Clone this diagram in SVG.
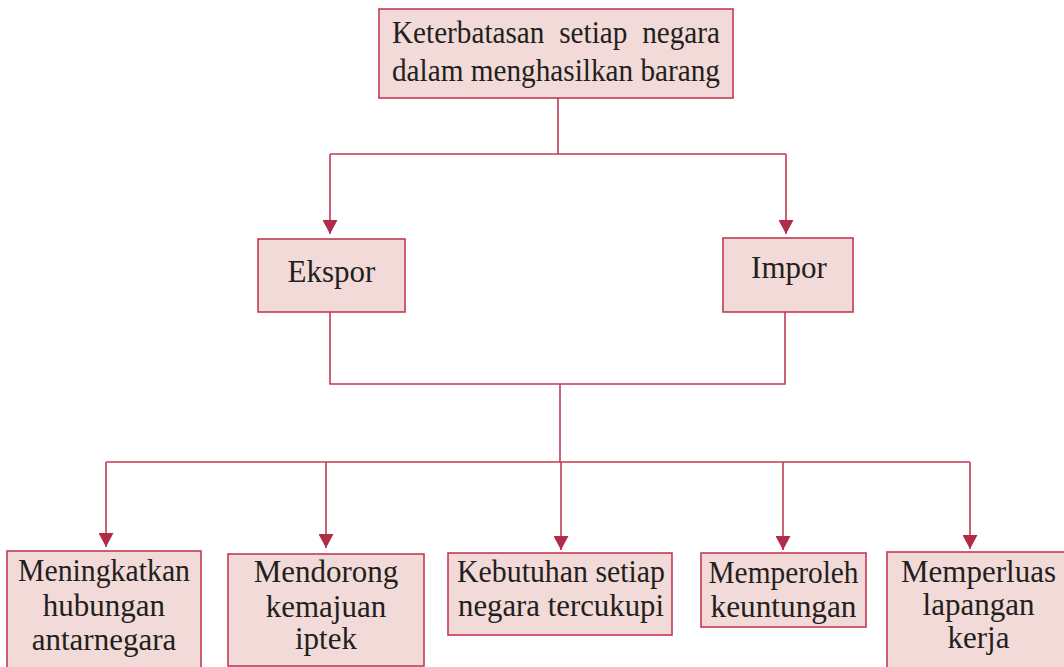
<svg xmlns="http://www.w3.org/2000/svg" width="1064" height="667" viewBox="0 0 1064 667">
<style>
.box{fill:#f1dad7;stroke:#c43a55;stroke-width:1.6}
.t{font-family:"Liberation Serif","Times New Roman",serif;font-size:31px;fill:#231f20;text-anchor:middle}
.tl{font-family:"Liberation Serif","Times New Roman",serif;font-size:31px;fill:#231f20}
.c{fill:none;stroke:#c43a55;stroke-width:1.6}
</style>
<defs>
<marker id="arr" viewBox="0 0 14 15" refX="14" refY="7.5" markerWidth="14" markerHeight="15" markerUnits="userSpaceOnUse" orient="auto">
<path d="M0,0 L14,7.5 L0,15 z" fill="#b12c48"/>
</marker>
</defs>
<rect width="1064" height="667" fill="#ffffff"/>
<g id="connectors">
<path class="c" d="M558,98 V154"/>
<path class="c" d="M330,154 H786"/>
<path class="c" d="M330,154 V234" marker-end="url(#arr)"/>
<path class="c" d="M786,154 V234" marker-end="url(#arr)"/>
<path class="c" d="M330,312 V384 H785 V312"/>
<path class="c" d="M560,384 V462"/>
<path class="c" d="M106,462 H970"/>
<path class="c" d="M106,462 V547" marker-end="url(#arr)"/>
<path class="c" d="M326,462 V548" marker-end="url(#arr)"/>
<path class="c" d="M561,462 V550" marker-end="url(#arr)"/>
<path class="c" d="M783,462 V550" marker-end="url(#arr)"/>
<path class="c" d="M970,462 V549" marker-end="url(#arr)"/>
</g>
<g id="node-top">
<rect class="box" x="379" y="9" width="354" height="89"/>
<text class="tl" x="392" y="43" textLength="328" lengthAdjust="spacingAndGlyphs" word-spacing="8">Keterbatasan setiap negara</text>
<text class="tl" x="392" y="81" textLength="328" lengthAdjust="spacingAndGlyphs">dalam menghasilkan barang</text>
</g>
<g id="node-ekspor">
<rect class="box" x="258" y="239" width="147" height="73"/>
<text class="t" x="331.5" y="282">Ekspor</text>
</g>
<g id="node-impor">
<rect class="box" x="723" y="238" width="130" height="74"/>
<text class="t" x="789" y="278">Impor</text>
</g>
<g id="node-hubungan">
<rect class="box" x="7" y="551" width="194" height="130"/>
<text class="t" x="104" y="581" textLength="172" lengthAdjust="spacingAndGlyphs">Meningkatkan</text>
<text class="t" x="104" y="616">hubungan</text>
<text class="t" x="104" y="650">antarnegara</text>
</g>
<g id="node-iptek">
<rect class="box" x="228" y="554" width="196" height="112"/>
<text class="t" x="326" y="582">Mendorong</text>
<text class="t" x="326" y="617">kemajuan</text>
<text class="t" x="326" y="649">iptek</text>
</g>
<g id="node-kebutuhan">
<rect class="box" x="448" y="553" width="224" height="82"/>
<text class="t" x="561" y="582" textLength="208" lengthAdjust="spacingAndGlyphs">Kebutuhan setiap</text>
<text class="t" x="561" y="616" textLength="206" lengthAdjust="spacingAndGlyphs">negara tercukupi</text>
</g>
<g id="node-keuntungan">
<rect class="box" x="701" y="553" width="165" height="74"/>
<text class="t" x="783.5" y="583" textLength="150" lengthAdjust="spacingAndGlyphs">Memperoleh</text>
<text class="t" x="783.5" y="617" textLength="146" lengthAdjust="spacingAndGlyphs">keuntungan</text>
</g>
<g id="node-lapangan">
<rect class="box" x="887" y="552" width="183" height="130"/>
<text class="t" x="978.5" y="582">Memperluas</text>
<text class="t" x="978.5" y="615">lapangan</text>
<text class="t" x="978.5" y="648">kerja</text>
</g>
</svg>
